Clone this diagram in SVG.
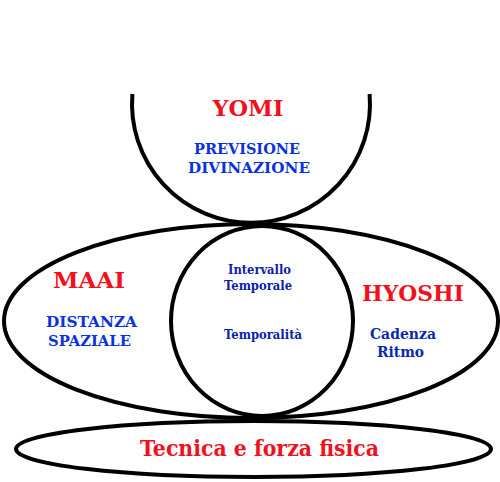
<svg xmlns="http://www.w3.org/2000/svg" width="500" height="482" viewBox="0 0 500 482">
<style>
.ln{fill:none;stroke:#000;stroke-width:4}
.t{font-family:"DejaVu Serif","Liberation Serif",serif;font-weight:bold;text-anchor:middle}
.red{fill:#f0101e;font-size:23px}
.blue{fill:#0a32dc;font-size:14px}
.navy{fill:#0a22a8;font-size:12px}
.nb{fill:#0a28b0;font-size:15px}
</style>
<rect width="500" height="482" fill="#fff"/>
<g id="connectors"></g>
<g id="middle">
<ellipse class="ln" cx="251" cy="321" rx="247" ry="97"/>
</g>
<g id="yomi">
<path class="ln" d="M132.4,94 A119,119 0 1 0 369.6,94"/>
<text class="t red" x="248" y="116" textLength="71" lengthAdjust="spacingAndGlyphs">YOMI</text>
<text class="t blue" x="247" y="154" textLength="106" lengthAdjust="spacingAndGlyphs">PREVISIONE</text>
<text class="t blue" x="249" y="173" textLength="122" lengthAdjust="spacingAndGlyphs">DIVINAZIONE</text>
</g>
<g id="center">
<ellipse class="ln" cx="262" cy="321" rx="91" ry="95"/>
<text class="t navy" x="259.5" y="274" textLength="63" lengthAdjust="spacingAndGlyphs">Intervallo</text>
<text class="t navy" x="258" y="290" textLength="68" lengthAdjust="spacingAndGlyphs">Temporale</text>
<text class="t navy" x="263" y="339" textLength="78" lengthAdjust="spacingAndGlyphs">Temporalità</text>
</g>
<g id="maai">
<text class="t red" x="89" y="288" textLength="72" lengthAdjust="spacingAndGlyphs">MAAI</text>
<text class="t blue" x="91.5" y="327" textLength="91" lengthAdjust="spacingAndGlyphs">DISTANZA</text>
<text class="t blue" x="89.5" y="346" textLength="83" lengthAdjust="spacingAndGlyphs">SPAZIALE</text>
</g>
<g id="hyoshi">
<text class="t red" x="413" y="301" textLength="102" lengthAdjust="spacingAndGlyphs">HYOSHI</text>
<text class="t nb" x="403" y="339" textLength="66" lengthAdjust="spacingAndGlyphs">Cadenza</text>
<text class="t nb" x="400.5" y="357" textLength="47" lengthAdjust="spacingAndGlyphs">Ritmo</text>
</g>
<g id="base">
<ellipse class="ln" cx="253.5" cy="449" rx="237.5" ry="28"/>
<text class="t red" x="259.5" y="456" textLength="239" lengthAdjust="spacingAndGlyphs">Tecnica e forza fisica</text>
</g>
</svg>
